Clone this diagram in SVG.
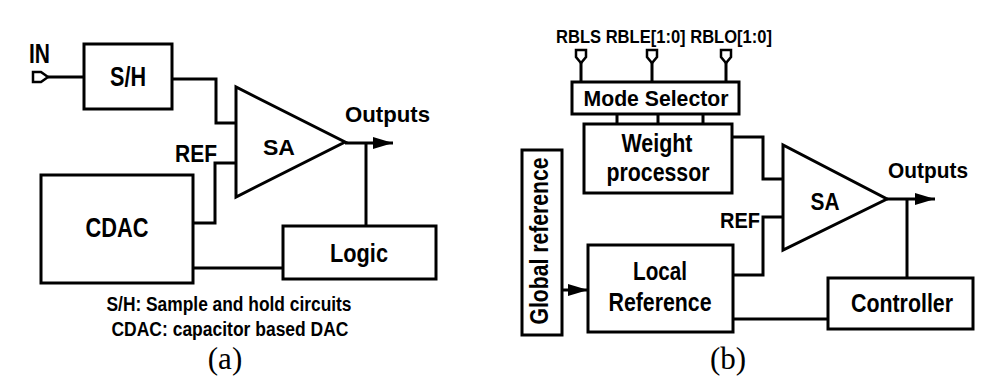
<svg xmlns="http://www.w3.org/2000/svg" width="1005" height="385" viewBox="0 0 1005 385">
<style>
.box{fill:#fff;stroke:#000;stroke-width:3}
.w{fill:none;stroke:#000;stroke-width:3;stroke-linejoin:miter}
.pin{fill:#fff;stroke:#000;stroke-width:2.5}
.t{font-family:"Liberation Sans Narrow","Liberation Sans",Arial,sans-serif;font-weight:bold;fill:#000}
.s{font-family:"Liberation Serif","Times New Roman",serif;fill:#000}
</style>
<defs>
<marker id="ah" markerUnits="userSpaceOnUse" markerWidth="20" markerHeight="14" refX="20" refY="7" orient="auto">
<path d="M0,1 L20,7 L0,13 z" fill="#000"/>
</marker>
</defs>
<rect width="1005" height="385" fill="#fff"/>
<g id="connectors">
<path class="w" d="M48,77 H84"/>
<path class="w" d="M172,79 H216 V123 H236"/>
<path class="w" d="M236,163 H215 V223 H193"/>
<path class="w" d="M345,143 H393" marker-end="url(#ah)"/>
<path class="w" d="M366,143 V226"/>
<path class="w" d="M193,268 H283"/>
<path class="w" d="M581,62 V82 M652,62 V82 M726,62 V82"/>
<path class="w" d="M617,114 V124 M658,114 V124 M703,114 V124"/>
<path class="w" d="M732,137 H763 V179 H783"/>
<path class="w" d="M783,217 H763 V275 H733"/>
<path class="w" d="M887,199 H935" marker-end="url(#ah)"/>
<path class="w" d="M907,199 V278"/>
<path class="w" d="M733,319 H828"/>
<path class="w" d="M562,290 H588" marker-end="url(#ah)"/>
</g>
<g id="in-pin">
<path class="pin" d="M33,72 H41 L48,77 L41,82 H33 Z"/>
<text class="t" x="29" y="63" font-size="27" textLength="21" lengthAdjust="spacingAndGlyphs">IN</text>
</g>
<g id="sh">
<rect class="box" x="84" y="44" width="88" height="65"/>
<text class="t" x="128" y="86" font-size="27" text-anchor="middle" textLength="36" lengthAdjust="spacingAndGlyphs">S/H</text>
</g>
<g id="sa-a">
<path class="box" d="M236,87 L236,197 L345,142 Z"/>
<text class="t" x="279" y="155" font-size="22" text-anchor="middle" textLength="32" lengthAdjust="spacingAndGlyphs">SA</text>
</g>
<g id="ref-a-label">
<text class="t" x="175" y="162" font-size="23" textLength="42" lengthAdjust="spacingAndGlyphs">REF</text>
</g>
<g id="outputs-a">
<text class="t" x="345" y="122" font-size="22" textLength="85" lengthAdjust="spacingAndGlyphs">Outputs</text>
</g>
<g id="cdac">
<rect class="box" x="41" y="175" width="152" height="108"/>
<text class="t" x="117" y="237" font-size="27" text-anchor="middle" textLength="63" lengthAdjust="spacingAndGlyphs">CDAC</text>
</g>
<g id="logic">
<rect class="box" x="283" y="226" width="153" height="53"/>
<text class="t" x="359" y="262" font-size="26" text-anchor="middle" textLength="58" lengthAdjust="spacingAndGlyphs">Logic</text>
</g>
<g id="caption-a">
<text class="t" x="229" y="311" font-size="20" text-anchor="middle" textLength="245" lengthAdjust="spacingAndGlyphs">S/H: Sample and hold circuits</text>
<text class="t" x="230" y="336" font-size="20" text-anchor="middle" textLength="237" lengthAdjust="spacingAndGlyphs">CDAC: capacitor based DAC</text>
<text class="s" x="225" y="369" font-size="31" text-anchor="middle">(a)</text>
</g>
<g id="pins-b">
<text class="t" x="556" y="43" font-size="18" textLength="216" lengthAdjust="spacingAndGlyphs">RBLS RBLE[1:0] RBLO[1:0]</text>
<path class="pin" d="M576,50 H586 V57 L581,63 L576,57 Z"/>
<path class="pin" d="M647,50 H657 V57 L652,63 L647,57 Z"/>
<path class="pin" d="M721,50 H731 V57 L726,63 L721,57 Z"/>
</g>
<g id="mode-selector">
<rect class="box" x="572" y="82" width="167" height="32"/>
<text class="t" x="656" y="106" font-size="22" text-anchor="middle" textLength="145" lengthAdjust="spacingAndGlyphs">Mode Selector</text>
</g>
<g id="weight-processor">
<rect class="box" x="584" y="124" width="148" height="69"/>
<text class="t" x="657" y="152" font-size="26" text-anchor="middle" textLength="71" lengthAdjust="spacingAndGlyphs">Weight</text>
<text class="t" x="658" y="181" font-size="26" text-anchor="middle" textLength="103" lengthAdjust="spacingAndGlyphs">processor</text>
</g>
<g id="global-reference">
<rect class="box" x="522" y="150" width="40" height="185"/>
<text class="t" transform="translate(548,241) rotate(-90)" x="0" y="0" font-size="25" text-anchor="middle" textLength="167" lengthAdjust="spacingAndGlyphs">Global reference</text>
</g>
<g id="local-reference">
<rect class="box" x="588" y="245" width="145" height="87"/>
<text class="t" x="660" y="280" font-size="26" text-anchor="middle" textLength="54" lengthAdjust="spacingAndGlyphs">Local</text>
<text class="t" x="660" y="311" font-size="26" text-anchor="middle" textLength="103" lengthAdjust="spacingAndGlyphs">Reference</text>
</g>
<g id="sa-b">
<path class="box" d="M783,145 L783,250 L887,199 Z"/>
<text class="t" x="825" y="210" font-size="24" text-anchor="middle" textLength="29" lengthAdjust="spacingAndGlyphs">SA</text>
</g>
<g id="ref-b-label">
<text class="t" x="720" y="228" font-size="22" textLength="40" lengthAdjust="spacingAndGlyphs">REF</text>
</g>
<g id="outputs-b">
<text class="t" x="888" y="178" font-size="22" textLength="80" lengthAdjust="spacingAndGlyphs">Outputs</text>
</g>
<g id="controller">
<rect class="box" x="828" y="278" width="145" height="51"/>
<text class="t" x="902" y="312" font-size="26" text-anchor="middle" textLength="102" lengthAdjust="spacingAndGlyphs">Controller</text>
</g>
<g id="caption-b">
<text class="s" x="728" y="369" font-size="31" text-anchor="middle">(b)</text>
</g>
</svg>
